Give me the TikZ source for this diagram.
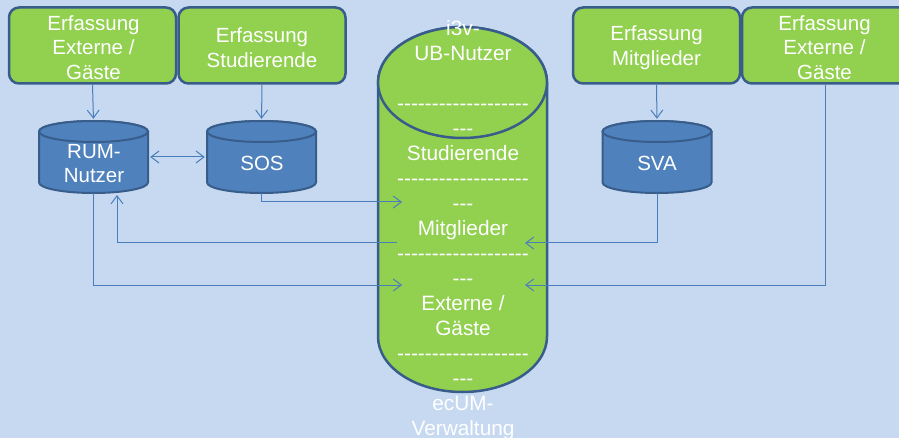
\documentclass[tikz,border=0pt]{standalone}
\usepackage{fontspec}
\newfontfamily\arialf{Liberation Sans}
\usetikzlibrary{arrows.meta}
\definecolor{bg}{HTML}{C6D9F1}
\definecolor{grn}{HTML}{92D050}
\definecolor{edge}{HTML}{385D8A}
\definecolor{cylblue}{HTML}{4F81BD}
\definecolor{linkblue}{HTML}{4A7EBB}
\newcommand{\drawcyl}[7]{% cx, top y, bottom y, rx, ry, fill, line width
  \path[draw=edge,line width=#7,fill=#6] ({#1-#4},{#2+#5}) -- ({#1-#4},{#3-#5})
    arc[start angle=180,end angle=0,x radius=#4,y radius=#5] -- ({#1+#4},{#2+#5})
    arc[start angle=0,end angle=-180,x radius=#4,y radius=#5] -- cycle;
  \path[draw=edge,line width=#7,fill=#6] (#1,{#2+#5}) ellipse[x radius=#4,y radius=#5];
}
\begin{document}
\begin{tikzpicture}[x=1pt,y=-1pt,
  box/.style={draw=edge,line width=2.5pt,fill=grn,rounded corners=10pt,
    minimum width=167pt,minimum height=76pt,inner sep=0pt},
  cylarea/.style={minimum width=109pt,minimum height=72pt,inner sep=0pt},
  lbl/.style={text=white,align=center,font=\arialf\fontsize{20.5}{24.5}\selectfont,inner sep=0pt},
  link/.style={draw=linkblue,line width=1pt,-{Straight Barb[length=8pt,width=12pt]}},
  dlink/.style={draw=linkblue,line width=1pt,{Straight Barb[length=8pt,width=12pt]}-{Straight Barb[length=8pt,width=12pt]}},
]
\fill[bg] (0,0) rectangle (899,438);
\useasboundingbox (0,0) rectangle (899,438);

% top boxes
\node[box] (b1) at (92.5,45.5) {};
\node[box] (b2) at (262,45.5) {};
\node[box] (b3) at (656.5,45.5) {};
\node[box] (b4) at (825.5,45.5) {};
\node[lbl] (b1t) at (93.5,47.5) {Erfassung\\Externe /\\Gäste};
\node[lbl] (b2t) at (262,47.5) {Erfassung\\Studierende};
\node[lbl] (b3t) at (656.5,47.5) {Erfassung\\Mitglieder};
\node[lbl] (b4t) at (824.5,47.5) {Erfassung\\Externe /\\Gäste};

% small cylinders
\drawcyl{93.5}{121}{193}{54.5}{10.5}{cylblue}{2pt}
\drawcyl{261.5}{121}{193}{54.5}{10.5}{cylblue}{2pt}
\drawcyl{657}{121}{193}{54.5}{10.5}{cylblue}{2pt}
\node[cylarea] (rum) at (93.5,157) {};
\node[cylarea] (sos) at (261.5,157) {};
\node[cylarea] (sva) at (657,157) {};
\node[lbl] (rumt) at (94,163.5) {RUM-\\Nutzer};
\node[lbl] (sost) at (262,163.5) {SOS};
\node[lbl] (svat) at (657,163.5) {SVA};

% big cylinder
\drawcyl{462.5}{27}{392}{84.5}{55.5}{grn}{2.5pt}
\node[minimum width=169pt,minimum height=365pt,inner sep=0pt] (ub) at (462.5,209.5) {};

% connection points inside big cylinder
\coordinate (inS) at (402,202);
\coordinate (outM) at (397,243);
\coordinate (inE) at (402,285);
\coordinate (inMr) at (525,243);
\coordinate (inEr) at (525,285);
\coordinate (rumUp) at (117,195);

% connectors
\draw[link,shorten >=2pt] (b1.south) -- (rum.north);
\draw[link,shorten >=2pt] (b2.south) -- (sos.north);
\draw[link,shorten >=2pt] (b3.south) -- (sva.north);
\draw[dlink,shorten >=2pt,shorten <=2pt] (rum.east) -- (sos.west);
\draw[link] (sos.south) |- (inS);
\draw[link] (outM) -| (rumUp);
\draw[link] (rum.south) |- (inE);
\draw[link] (sva.south) |- (inMr);
\draw[link] (b4.south) |- (inEr);

% big cylinder text
\node[lbl,font=\arialf\fontsize{20.8}{25}\selectfont] (ubt) at (463,230)
  {i3v-\\UB-Nutzer\\[25pt]-------------------\\---\\Studierende\\-------------------\\---\\Mitglieder\\-------------------\\---\\Externe /\\Gäste\\-------------------\\---\\ecUM-\\Verwaltung};
\end{tikzpicture}
\end{document}
